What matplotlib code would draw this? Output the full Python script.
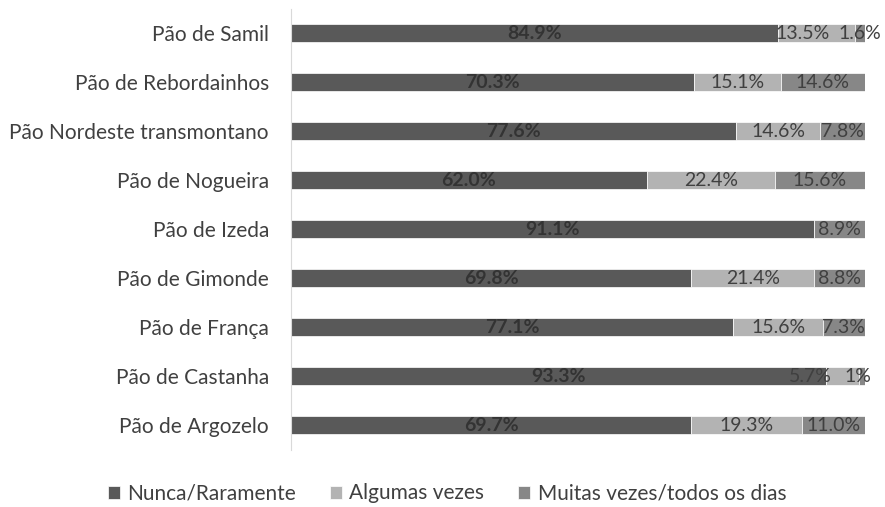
import matplotlib
matplotlib.use("Agg")
import matplotlib.pyplot as plt
import numpy as np
from matplotlib.transforms import offset_copy

categories = ["Pão de Samil", "Pão de Rebordainhos", "Pão Nordeste transmontano",
              "Pão de Nogueira", "Pão de Izeda", "Pão de Gimonde", "Pão de França",
              "Pão de Castanha", "Pão de Argozelo"]
nunca = [84.9, 70.3, 77.6, 62.0, 91.1, 69.8, 77.1, 93.3, 69.7]
algumas = [13.5, 15.1, 14.6, 22.4, 0.0, 21.4, 15.6, 5.7, 19.3]
muitas = [1.6, 14.6, 7.8, 15.6, 8.9, 8.8, 7.3, 1.0, 11.0]
algumas_labels = ["13.5%", "15.1%", "14.6%", "22.4%", "", "21.4%", "15.6%", "5.7%", "19.3%"]
muitas_labels = ["1.6%", "14.6%", "7.8%", "15.6%", "8.9%", "8.8%", "7.3%", "1%", "11.0%"]
series_names = ["Nunca/Raramente", "Algumas vezes", "Muitas vezes/todos os dias"]

plt.rcParams['font.family'] = ['Lato', 'DejaVu Sans']

fig = plt.figure(figsize=(8.85, 5.07), dpi=100)
ax = fig.add_axes([0.329, 0.113, 0.648, 0.870])

y = np.arange(len(categories))[::-1]
c1, c2, c3 = "#595959", "#b3b3b3", "#878787"
tc = "#404040"
h = 0.37
b1 = ax.barh(y, nunca, height=h, color=c1, edgecolor="white", linewidth=0.5, label=series_names[0])
b2 = ax.barh(y, algumas, left=nunca, height=h, color=c2, edgecolor="white", linewidth=0.5, label=series_names[1])
left3 = np.array(nunca) + np.array(algumas)
b3 = ax.barh(y, muitas, left=left3, height=h, color=c3, edgecolor="white", linewidth=0.5, label=series_names[2])

fs = 14
# small label nudges (points) to avoid collisions, as in the original
nudge2 = {0: -10, 7: -23}
nudge3 = {7: -3}

for yi, v in zip(y, nunca):
    ax.text(v / 2, yi, f"{v:.1f}%", ha="center", va="center", fontsize=fs, fontweight="bold", color="#333333")
for i, (yi, l, v, lab) in enumerate(zip(y, nunca, algumas, algumas_labels)):
    if lab:
        tr = offset_copy(ax.transData, fig=fig, x=nudge2.get(i, 0), y=0, units="points")
        ax.text(l + v / 2, yi, lab, ha="center", va="center", fontsize=fs, color=tc, transform=tr)
for i, (yi, l, v, lab) in enumerate(zip(y, left3, muitas, muitas_labels)):
    tr = offset_copy(ax.transData, fig=fig, x=nudge3.get(i, 0), y=0, units="points")
    ax.text(l + v / 2, yi, lab, ha="center", va="center", fontsize=fs, color=tc, transform=tr)

ax.set_xlim(0, 100)
ax.set_ylim(-0.5, len(categories) - 0.5)
ax.set_yticks(y)
ax.set_yticklabels(categories, fontsize=15, color=tc)
ax.set_xticks([])
ax.tick_params(axis="y", length=0, pad=16)
for s in ["top", "right", "bottom"]:
    ax.spines[s].set_visible(False)
ax.spines["left"].set_color("#d9d9d9")

fig.legend(handles=[b1, b2, b3], labels=series_names, loc="lower center", ncol=3,
           frameon=False, bbox_to_anchor=(0.505, -0.03), fontsize=15, handlelength=0.6,
           handleheight=0.6, columnspacing=1.6, handletextpad=0.35, labelcolor=tc)

fig.savefig("out.png", dpi=100)
